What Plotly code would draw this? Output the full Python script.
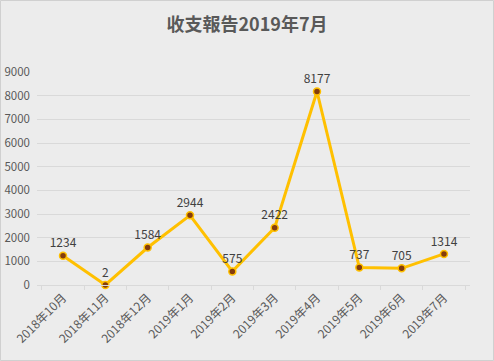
import plotly.graph_objects as go

categories = ["2018年10月", "2018年11月", "2018年12月", "2019年1月", "2019年2月",
              "2019年3月", "2019年4月", "2019年5月", "2019年6月", "2019年7月"]
values = [1234, 2, 1584, 2944, 575, 2422, 8177, 737, 705, 1314]
y_ticks = [0, 1000, 2000, 3000, 4000, 5000, 6000, 7000, 8000, 9000]
title_text = "收支報告2019年7月"

font_family = "Noto Sans CJK TC, Noto Sans, sans-serif"

L, R, T, B = 37, 24, 72, 76
PW, PH = 494 - L - R, 361 - T - B

fig = go.Figure(go.Scatter(
    x=categories, y=values, mode="lines+markers+text",
    text=[str(v) for v in values], textposition="top center",
    textfont=dict(size=12, color="#404040", family=font_family),
    line=dict(color="#FFC000", width=3),
    marker=dict(size=7, color="#843C0C", line=dict(color="#FFC000", width=1.5)),
    cliponaxis=False,
))

fig.update_layout(
    width=494, height=361,
    paper_bgcolor="#ECECEC", plot_bgcolor="#ECECEC",
    margin=dict(l=L, r=R, t=T, b=B, autoexpand=False),
    showlegend=False,
    title=dict(text=title_text, x=0.5, xanchor="center", y=1 - 25 / 361, yanchor="middle",
               font=dict(size=18, color="#595959", family=font_family, weight="bold")),
    font=dict(family=font_family, color="#595959"),
    shapes=[dict(type="rect", xref="paper", yref="paper",
                 x0=(-L + 0.5) / PW, x1=1 + (R - 0.5) / PW,
                 y0=(-B + 0.5) / PH, y1=1 + (T - 0.5) / PH,
                 line=dict(color="#D0D0D0", width=1), layer="below")],
)
fig.update_xaxes(
    type="category", showgrid=False, showline=True, linecolor="#D9D9D9", linewidth=1,
    ticks="outside", tickson="boundaries", ticklen=4, tickcolor="#D9D9D9",
    tickangle=-45, tickfont=dict(size=12, color="#595959"), zeroline=False,
    automargin=False,
)
fig.update_yaxes(
    range=[0, 9000], tickvals=y_ticks, showgrid=True, gridcolor="#D9D9D9", gridwidth=1,
    zeroline=False, showline=False, tickfont=dict(size=11.5, color="#595959"),
    ticklabelstandoff=6, automargin=False,
)

fig.write_html("out.html", config={"displayModeBar": False},
               post_script="document.body.style.margin='0';document.body.style.overflow='hidden';")
